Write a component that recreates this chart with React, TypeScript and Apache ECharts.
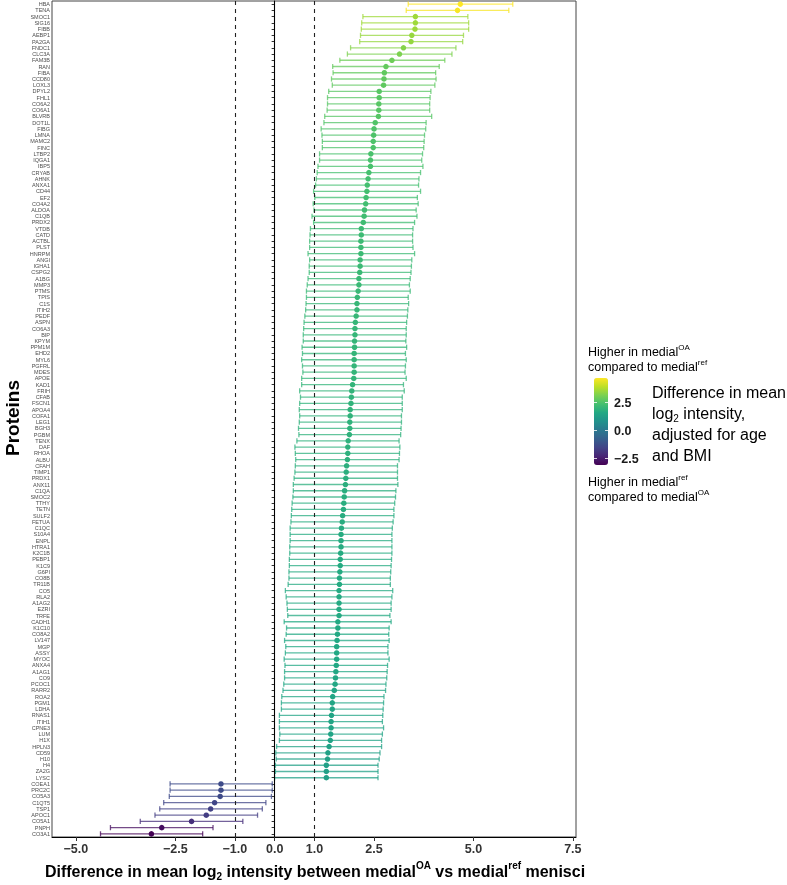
import React, { useEffect, useRef } from 'react';
import * as echarts from 'echarts';

const proteins = ["HBA","TENA","SMOC1","SIG16","FIBB","AEBP1","PA2GA","FNDC1","CLC3A","FAM3B","RAN","FIBA","CCD80","LOXL3","DPYL2","FHL1","CO6A2","CO6A1","BLVRB","DOT1L",
"FIBG","LMNA","MAMC2","FINC","LTBP2","IQGA1","IBP5","CRYAB","AHNK","ANXA1","CD44","EF2","CO4A2","ALDOA","C1QB","PRDX2","VTDB","CATD","ACTBL",
"PLST","HNRPM","ANGI","IGHA1","CSPG2","A1BG","MMP3","PTMS","TPIS","C1S","ITIH2","PEDF","ASPN","CO6A3","BIP","KPYM","PPM1M","EHD2","MYL6",
"PGFRL","MDES","APOE","KAD1","FRIH","CFAB","FSCN1","APOA4","COFA1","LEG1","BGH3","PGBM","TENX","DAF","RHOA","ALBU","CFAH","TIMP1","PRDX1","ANX11",
"C1QA","SMOC2","TTHY","TETN","SULF2","FETUA","C1QC","S10A4","ENPL","HTRA1","K2C1B","PEBP1","K1C9","G6PI","CO8B","TR11B","CO5","RLA2","A1AG2",
"EZRI","TRFE","CADH1","K1C10","CO8A2","LV147","MGP","ASSY","MYOC","ANXA4","A1AG1","CO9","PCOC1","RARR2","ROA2","PGM1","LDHA","RNAS1","ITIH1",
"CPNE3","LUM","H1X","HPLN3","CD59","H10","H4","ZA2G","LYSC","COEA1","PRC2C","CO5A3","C1QT5","TSP1","APOC1","CO5A1","PNPH","CO3A1"];

const estimates = [4.67,4.60,3.54,3.54,3.53,3.45,3.43,3.24,3.14,2.95,2.80,2.76,2.75,2.74,2.63,2.63,2.62,2.62,2.61,2.53,
2.50,2.49,2.48,2.48,2.42,2.41,2.41,2.37,2.35,2.33,2.32,2.30,2.29,2.26,2.25,2.23,2.18,2.18,2.17,
2.17,2.17,2.15,2.15,2.14,2.12,2.12,2.10,2.08,2.07,2.07,2.05,2.03,2.02,2.02,2.01,2.01,2.00,2.00,
2.00,2.00,1.99,1.96,1.94,1.93,1.92,1.90,1.90,1.89,1.89,1.88,1.85,1.84,1.84,1.83,1.81,1.80,1.79,1.78,
1.76,1.75,1.74,1.73,1.71,1.70,1.68,1.67,1.67,1.67,1.66,1.65,1.65,1.64,1.63,1.63,1.62,1.62,1.62,
1.62,1.62,1.59,1.59,1.58,1.57,1.56,1.56,1.56,1.55,1.54,1.53,1.52,1.50,1.46,1.45,1.45,1.43,1.42,
1.42,1.41,1.40,1.37,1.34,1.33,1.30,1.30,1.30,-1.35,-1.35,-1.37,-1.51,-1.61,-1.72,-2.09,-2.84,-3.10];

const lowerCI = [3.36,3.31,2.22,2.19,2.18,2.16,2.14,1.91,1.83,1.64,1.46,1.47,1.43,1.45,1.36,1.33,1.33,1.32,1.26,1.24,
1.17,1.19,1.20,1.20,1.13,1.13,1.09,1.07,1.05,1.03,0.98,1.01,0.97,0.99,0.94,0.98,0.90,0.89,0.88,
0.88,0.84,0.88,0.87,0.87,0.84,0.82,0.80,0.80,0.79,0.78,0.76,0.74,0.73,0.72,0.72,0.69,0.70,0.68,
0.70,0.71,0.68,0.68,0.63,0.65,0.63,0.62,0.63,0.62,0.60,0.61,0.56,0.51,0.52,0.53,0.52,0.51,0.49,0.47,
0.47,0.46,0.44,0.43,0.42,0.41,0.39,0.39,0.39,0.38,0.38,0.37,0.37,0.36,0.36,0.34,0.27,0.29,0.31,
0.32,0.33,0.24,0.30,0.29,0.25,0.28,0.27,0.24,0.26,0.25,0.25,0.23,0.21,0.18,0.17,0.17,0.12,0.12,
0.12,0.13,0.12,0.05,0.03,0.04,0.02,0.02,0.00,-2.63,-2.63,-2.65,-2.79,-2.89,-3.01,-3.38,-4.13,-4.38];

const upperCI = [5.99,5.89,4.86,4.88,4.88,4.75,4.73,4.56,4.46,4.28,4.14,4.05,4.06,4.03,3.93,3.91,3.90,3.90,3.95,3.81,
3.80,3.77,3.76,3.75,3.72,3.70,3.73,3.67,3.63,3.62,3.67,3.59,3.61,3.56,3.58,3.52,3.48,3.47,3.47,
3.48,3.52,3.45,3.44,3.43,3.41,3.39,3.41,3.36,3.37,3.35,3.34,3.32,3.31,3.31,3.30,3.32,3.29,3.31,
3.29,3.28,3.31,3.24,3.26,3.21,3.21,3.21,3.19,3.19,3.18,3.17,3.13,3.15,3.14,3.13,3.09,3.09,3.09,3.10,
3.05,3.04,3.02,3.00,3.00,2.98,2.96,2.95,2.95,2.95,2.95,2.94,2.93,2.92,2.91,2.91,2.97,2.95,2.93,
2.93,2.90,2.93,2.88,2.87,2.88,2.85,2.85,2.88,2.84,2.83,2.82,2.80,2.79,2.75,2.74,2.73,2.72,2.71,
2.74,2.71,2.69,2.69,2.65,2.63,2.60,2.60,2.60,-0.06,-0.06,-0.08,-0.22,-0.31,-0.43,-0.80,-1.55,-1.81];

const xTicks = [-5, -2.5, -1, 0, 1, 2.5, 5, 7.5];
const refLines = [-1, 1];
const legendTicks = [2.5, 0, -2.5];
const viridis = ['#440154', '#482475', '#414487', '#355f8d', '#2a788e', '#21918c', '#22a884', '#44bf70', '#7ad151', '#bddf26', '#fde725'];

const FONT = '"Liberation Sans", Arial, Helvetica, sans-serif';

const fmt = (v: number) => (v < 0 ? '\u2212' : '') + Math.abs(v).toFixed(1);

export default function App() {
  const ref = useRef<HTMLDivElement>(null);
  useEffect(() => {
    const chart = echarts.init(ref.current!, null, { renderer: 'svg' });
    const vMin = Math.min(...estimates);
    const vMax = Math.max(...estimates);
    const colorOf = (v: number) => echarts.color.lerp((v - vMin) / (vMax - vMin), viridis) as string;
    const barLeft = 594, barTop = 378, barW = 14, barH = 87;
    const yOf = (v: number) => barTop + ((vMax - v) / (vMax - vMin)) * barH;

    const supStyle = (size: number, bold = false) => ({ fontSize: size, fontWeight: bold ? 'bold' : 'normal', fontFamily: FONT, fill: '#000', verticalAlign: 'top', lineHeight: size + 1 });
    const subStyle = (size: number, bold = false) => ({ fontSize: size, fontWeight: bold ? 'bold' : 'normal', fontFamily: FONT, fill: '#000', verticalAlign: 'bottom', lineHeight: size + 1 });

    const legendText = (x: number, y: number, text: string, size: number, rich: any = {}) => ({
      type: 'text', x, y,
      style: { text, fontSize: size, fontFamily: FONT, fill: '#000', textAlign: 'left', textVerticalAlign: 'middle', lineHeight: size + 5, rich },
    });

    const graphics: any[] = [
      {
        type: 'text', x: 12, y: 418, rotation: Math.PI / 2,
        style: { text: 'Proteins', fontSize: 19, fontWeight: 'bold', fontFamily: FONT, fill: '#000', textAlign: 'center', textVerticalAlign: 'middle' },
      },
      {
        type: 'text', x: 315, y: 871,
        style: {
          text: 'Difference in mean log{sub|2} intensity between medial{sup|OA} vs medial{sup|ref} menisci',
          fontSize: 16, fontWeight: 'bold', fontFamily: FONT, fill: '#000', textAlign: 'center', textVerticalAlign: 'middle', lineHeight: 21,
          rich: { sub: subStyle(10, true), sup: supStyle(10, true) },
        },
      },
      legendText(588, 352, 'Higher in medial{sup|OA}', 12.5, { sup: supStyle(8) }),
      legendText(588, 367, 'compared to medial{sup|ref}', 12.5, { sup: supStyle(8) }),
      legendText(652, 392, 'Difference in mean', 16),
      legendText(652, 413, 'log{sub|2} intensity,', 16, { sub: subStyle(10) }),
      legendText(652, 434, 'adjusted for age', 16),
      legendText(652, 455, 'and BMI', 16),
      legendText(588, 482, 'Higher in medial{sup|ref}', 12.5, { sup: supStyle(8) }),
      legendText(588, 497, 'compared to medial{sup|OA}', 12.5, { sup: supStyle(8) }),
    ];
    legendTicks.forEach((v) => {
      const y = Math.round(yOf(v)) + 0.5;
      graphics.push({ type: 'text', x: barLeft + barW + 6, y, z: 100, style: { text: fmt(v), fontSize: 12.5, fontWeight: 'bold', fontFamily: FONT, fill: '#1a1a1a', textAlign: 'left', textVerticalAlign: 'middle' } });
      graphics.push({ type: 'line', z: 100, shape: { x1: barLeft, y1: y, x2: barLeft + 3, y2: y }, style: { stroke: '#fff', lineWidth: 1, opacity: 0.8 } });
      graphics.push({ type: 'line', z: 100, shape: { x1: barLeft + barW - 3, y1: y, x2: barLeft + barW, y2: y }, style: { stroke: '#fff', lineWidth: 1, opacity: 0.8 } });
    });

    const errData = proteins.map((p, i) => [estimates[i], i, lowerCI[i], upperCI[i]]);
    const ptData = proteins.map((p, i) => [estimates[i], i]);

    chart.setOption({
      animation: false,
      grid: { left: 52, right: 211, top: 1, bottom: 48, show: true, borderColor: '#444', borderWidth: 1, containLabel: false },
      xAxis: {
        type: 'value', min: -5.6, max: 7.58,
        axisLine: { show: true, onZero: false, lineStyle: { color: '#000', width: 1 } },
        axisTick: { show: true, customValues: xTicks, length: 4, lineStyle: { color: '#333' } },
        axisLabel: { customValues: xTicks, formatter: (v: number) => fmt(v), fontSize: 12.5, fontWeight: 'bold', color: '#333', fontFamily: FONT, margin: 5 },
        splitLine: { show: false },
      },
      yAxis: {
        type: 'category', data: proteins, inverse: true,
        axisLine: { show: true, lineStyle: { color: '#000', width: 1 } },
        axisTick: { show: true, alignWithLabel: true, interval: 0, length: 3, lineStyle: { color: '#333' } },
        axisLabel: { interval: 0, fontSize: 5.5, color: '#4d4d4d', fontFamily: FONT, margin: 2 },
        splitLine: { show: false },
      },
      visualMap: {
        type: 'continuous', show: true, min: vMin, max: vMax, dimension: 0, seriesIndex: [1],
        inRange: { color: viridis }, left: barLeft, top: barTop, itemWidth: barW, itemHeight: barH,
        padding: 0, calculable: false, text: null, hoverLink: false, orient: 'vertical',
      },
      graphic: graphics,
      series: [
        {
          type: 'custom',
          data: errData,
          encode: { x: [0, 2, 3], y: 1 },
          z: 2,
          renderItem: (params: any, api: any) => {
            const yi = api.value(1);
            const lo = api.coord([api.value(2), yi]);
            const hi = api.coord([api.value(3), yi]);
            const y = lo[1];
            const x1 = lo[0];
            const x2 = hi[0];
            const h = 2.6;
            const color = colorOf(api.value(0));
            const mk = () => ({ stroke: color, lineWidth: 1.3, opacity: 0.75, fill: null });
            return {
              type: 'group',
              children: [
                { type: 'line', shape: { x1, y1: y, x2, y2: y }, style: mk() },
                { type: 'line', shape: { x1, y1: y - h, x2: x1, y2: y + h }, style: mk() },
                { type: 'line', shape: { x1: x2, y1: y - h, x2, y2: y + h }, style: mk() },
              ],
            };
          },
        },
        {
          type: 'scatter',
          data: ptData,
          symbol: 'circle',
          symbolSize: 5.5,
          z: 3,
          itemStyle: { opacity: 1 },
          markLine: {
            silent: true, symbol: 'none', label: { show: false },
            data: [
              { xAxis: 0, lineStyle: { type: 'solid', color: '#000', width: 1.1 } },
              ...refLines.map((v) => ({ xAxis: v, lineStyle: { type: [4, 4], color: '#222', width: 1.1 } })),
            ],
          },
        },
      ],
    });
    return () => chart.dispose();
  }, []);
  return <div ref={ref} style={{ position: 'fixed', left: 0, top: 0, width: 787, height: 885 }} />;
}
